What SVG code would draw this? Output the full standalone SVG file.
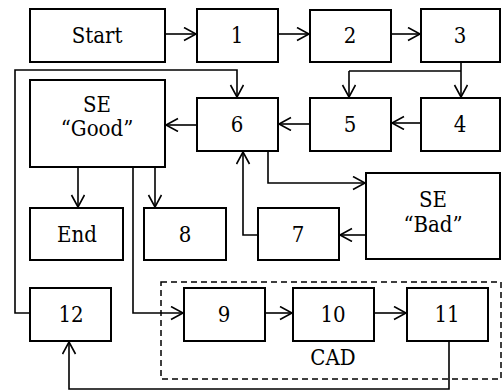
<svg xmlns="http://www.w3.org/2000/svg" width="502" height="392" viewBox="0 0 502 392">
<defs>
<style>
.b{fill:#fff;stroke:#000;stroke-width:2}
.t{font-family:'DejaVu Serif Condensed','DejaVu Serif','Liberation Serif',serif;font-stretch:condensed;font-size:22px;text-anchor:middle;fill:#000}
.c{fill:none;stroke:#000;stroke-width:1.6;marker-end:url(#a)}
.l{fill:none;stroke:#000;stroke-width:1.6}
</style>
<marker id="a" markerWidth="16" markerHeight="16" refX="13" refY="7" orient="auto" markerUnits="userSpaceOnUse">
<path d="M1,0.5 L13,7 L1,13.5" fill="none" stroke="#000" stroke-width="1.6"/>
</marker>
</defs>
<rect width="502" height="392" fill="#fff"/>
<g id="connectors">
<path class="c" d="M165,34 H196"/>
<path class="c" d="M278,34 H309"/>
<path class="c" d="M391,34 H420"/>
<path class="c" d="M461,62 V97"/>
<path class="l" d="M461,71 H349"/>
<path class="c" d="M349,71 V97"/>
<path class="c" d="M421,123 H392"/>
<path class="c" d="M310,124 H279"/>
<path class="c" d="M197,125 H166"/>
<path class="c" d="M30,313 H15 V70 H237 V97"/>
<path class="c" d="M268,151 V183 H365"/>
<path class="c" d="M366,235 H340"/>
<path class="c" d="M258,235 H243 V152"/>
<path class="c" d="M78,167 V207"/>
<path class="c" d="M155,167 V207"/>
<path class="c" d="M133,167 V313 H183"/>
<path class="c" d="M265,313 H292"/>
<path class="c" d="M374,313 H406"/>
<path class="c" d="M449,341 V389 H69 V342"/>
</g>
<g id="cad"><rect x="161" y="282" width="340" height="97" fill="none" stroke="#000" stroke-width="1.5" stroke-dasharray="6,4"/><text class="t" x="333" y="365">CAD</text></g>
<g id="start"><rect class="b" x="30" y="9" width="135" height="53"/><text class="t" x="97" y="43">Start</text></g>
<g id="n1"><rect class="b" x="197" y="9" width="81" height="53"/><text class="t" x="237" y="43">1</text></g>
<g id="n2"><rect class="b" x="310" y="10" width="81" height="52"/><text class="t" x="350" y="43">2</text></g>
<g id="n3"><rect class="b" x="421" y="9" width="79" height="53"/><text class="t" x="460" y="43">3</text></g>
<g id="seGood"><rect class="b" x="30" y="80" width="135" height="87"/><text class="t" x="97" y="112">SE</text><text class="t" x="97" y="136">“Good”</text></g>
<g id="n6"><rect class="b" x="197" y="98" width="81" height="53"/><text class="t" x="237" y="132">6</text></g>
<g id="n5"><rect class="b" x="310" y="98" width="81" height="53"/><text class="t" x="350" y="132">5</text></g>
<g id="n4"><rect class="b" x="421" y="98" width="79" height="53"/><text class="t" x="460" y="132">4</text></g>
<g id="seBad"><rect class="b" x="366" y="173" width="134" height="86"/><text class="t" x="433" y="207">SE</text><text class="t" x="433" y="232">“Bad”</text></g>
<g id="n7"><rect class="b" x="258" y="208" width="81" height="52"/><text class="t" x="298" y="242">7</text></g>
<g id="end"><rect class="b" x="30" y="208" width="93" height="52"/><text class="t" x="77" y="242">End</text></g>
<g id="n8"><rect class="b" x="144" y="208" width="82" height="52"/><text class="t" x="185" y="242">8</text></g>
<g id="n12"><rect class="b" x="30" y="288" width="81" height="53"/><text class="t" x="71" y="322">12</text></g>
<g id="n9"><rect class="b" x="184" y="288" width="81" height="53"/><text class="t" x="224" y="322">9</text></g>
<g id="n10"><rect class="b" x="293" y="288" width="81" height="53"/><text class="t" x="333" y="322">10</text></g>
<g id="n11"><rect class="b" x="407" y="288" width="81" height="53"/><text class="t" x="447" y="322">11</text></g>
</svg>
